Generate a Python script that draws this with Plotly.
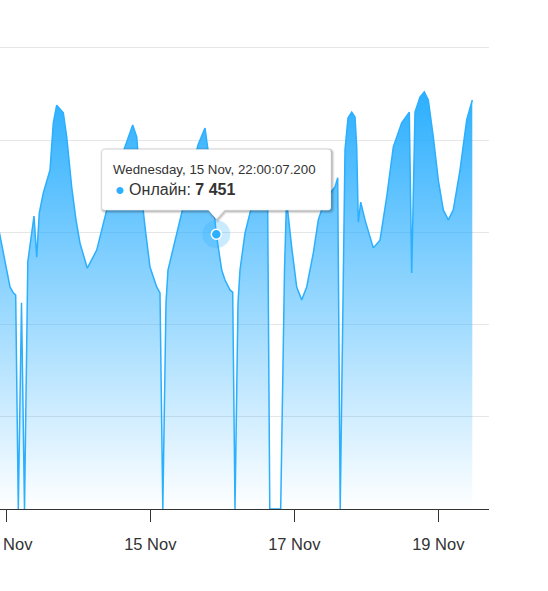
import plotly.graph_objects as go
from datetime import datetime

# ---- data ----
times = [
    "2023-11-12 20:34", "2023-11-12 23:00", "2023-11-13 00:08", "2023-11-13 01:14",
    "2023-11-13 02:20", "2023-11-13 03:08", "2023-11-13 04:00", "2023-11-13 05:04",
    "2023-11-13 06:04", "2023-11-13 07:10", "2023-11-13 08:28", "2023-11-13 09:14",
    "2023-11-13 10:08", "2023-11-13 11:00", "2023-11-13 12:20", "2023-11-13 13:28",
    "2023-11-13 14:34", "2023-11-13 15:40", "2023-11-13 16:48", "2023-11-13 19:00",
    "2023-11-13 20:08", "2023-11-13 21:48", "2023-11-13 23:14", "2023-11-14 00:34",
    "2023-11-14 03:00", "2023-11-14 06:08", "2023-11-14 09:28", "2023-11-14 12:48",
    "2023-11-14 16:08", "2023-11-14 18:08", "2023-11-14 19:28", "2023-11-14 20:34",
    "2023-11-14 22:14", "2023-11-14 23:54", "2023-11-15 02:08", "2023-11-15 03:14",
    "2023-11-15 04:10", "2023-11-15 05:14", "2023-11-15 05:54", "2023-11-15 07:54",
    "2023-11-15 09:54", "2023-11-15 13:14", "2023-11-15 15:54", "2023-11-15 18:14",
    "2023-11-15 19:14", "2023-11-15 20:34", "2023-11-15 22:00:07.200", "2023-11-15 23:48",
    "2023-11-16 00:54", "2023-11-16 02:34", "2023-11-16 03:28", "2023-11-16 04:14",
    "2023-11-16 05:14", "2023-11-16 05:54", "2023-11-16 07:34", "2023-11-16 09:14",
    "2023-11-16 11:14", "2023-11-16 13:14", "2023-11-16 15:04", "2023-11-16 15:50",
    "2023-11-16 19:28", "2023-11-16 20:44", "2023-11-16 21:24", "2023-11-16 23:08",
    "2023-11-17 00:48", "2023-11-17 02:28", "2023-11-17 04:08", "2023-11-17 06:20",
    "2023-11-17 08:00", "2023-11-17 10:14", "2023-11-17 13:34", "2023-11-17 14:28",
    "2023-11-17 15:18", "2023-11-17 16:54", "2023-11-17 17:54", "2023-11-17 19:08",
    "2023-11-17 20:14", "2023-11-17 20:48", "2023-11-17 21:20", "2023-11-17 22:08",
    "2023-11-17 23:34", "2023-11-18 02:20", "2023-11-18 04:34", "2023-11-18 06:48",
    "2023-11-18 09:00", "2023-11-18 11:48", "2023-11-18 14:20", "2023-11-18 15:08",
    "2023-11-18 16:14", "2023-11-18 17:54", "2023-11-18 19:20", "2023-11-18 20:40",
    "2023-11-18 22:20", "2023-11-19 00:00", "2023-11-19 01:40", "2023-11-19 03:20",
    "2023-11-19 05:00", "2023-11-19 07:14", "2023-11-19 09:28", "2023-11-19 11:20",
]
online = [
    7970, 7020, 6480, 6020,
    5860, 5800, 0, 5590,
    0, 6700, 7570, 7940,
    6830, 8030, 8570, 8920,
    9190, 10470, 10950, 10740,
    10090, 8730, 7840, 7210,
    6530, 7020, 8110, 9190,
    9950, 10410, 10090, 8920,
    7650, 6560, 6020, 5860,
    0, 5590, 6480, 7160,
    7840, 8920, 9870, 10330,
    9730, 8650, 7451, 6480,
    6210, 5940, 5880, 0,
    5590, 6480, 7480, 8030,
    8650, 8980, 8870, 0,
    0, 6480, 8380, 7100,
    6020, 5670, 6020, 6940,
    7840, 8380, 8730, 8980,
    0, 9730, 10600, 10760,
    10630, 9820, 7780, 8320,
    7840, 7080, 7290, 8460,
    9820, 10470, 10760, 6400,
    10760, 11170, 11310, 11090,
    10090, 8920, 8110, 7840,
    8110, 9190, 10550, 11090,
]
series_name = "Онлайн"
hover_time = "2023-11-15 22:00:07.200"
hover_value = 7451

tick_dates = ["2023-11-13", "2023-11-15", "2023-11-17", "2023-11-19"]
tick_labels = ["13 Nov", "15 Nov", "17 Nov", "19 Nov"]
x_range = ["2023-11-12 21:54", "2023-11-19 16:54"]
y_range = [0, 12554]

COLOR = "#2caffe"
FONT = "Liberation Sans, Arial, sans-serif"

fig = go.Figure()
fig.add_trace(go.Scatter(
    x=times, y=online, name=series_name, mode="lines",
    line=dict(color=COLOR, width=1.5),
    fill="tozeroy",
    fillgradient=dict(type="vertical",
                      colorscale=[[0, "rgba(44,175,254,0)"], [1, "rgba(44,175,254,1)"]],
                      start=0, stop=max(online)),
    hoverinfo="skip", showlegend=False,
))
# hover halo + marker
fig.add_trace(go.Scatter(
    x=[hover_time], y=[hover_value], mode="markers",
    marker=dict(size=28, color="rgba(44,175,254,0.25)", line=dict(width=0)),
    hoverinfo="skip", showlegend=False,
))
fig.add_trace(go.Scatter(
    x=[hover_time], y=[hover_value], mode="markers",
    marker=dict(size=10, color=COLOR, line=dict(width=1.5, color="white")),
    hoverinfo="skip", showlegend=False,
))

# tooltip box (pixel offsets relative to hovered point)
L, R, T, B, rr = -114.6, 114.7, 85, 24, 3
TIP, HW = 15, 8


def tooltip_path(ox=0.0, oy=0.0):
    p = lambda x, y: f"{x + ox},{y + oy}"
    return (f"M {p(L + rr, T)} L {p(R - rr, T)} Q {p(R, T)} {p(R, T - rr)} "
            f"L {p(R, B + rr)} Q {p(R, B)} {p(R - rr, B)} L {p(HW, B)} L {p(0, TIP)} "
            f"L {p(-HW, B)} L {p(L + rr, B)} Q {p(L, B)} {p(L, B + rr)} "
            f"L {p(L, T - rr)} Q {p(L, T)} {p(L + rr, T)} Z")


shapes = []
for w, a in [(5, 0.05), (3, 0.1), (1, 0.15)]:
    shapes.append(dict(type="path", xref="x", yref="y", xsizemode="pixel", ysizemode="pixel",
                       xanchor=hover_time, yanchor=hover_value, path=tooltip_path(1, -1),
                       line=dict(color=f"rgba(0,0,0,{a})", width=w), fillcolor="rgba(0,0,0,0)",
                       layer="above"))
shapes.append(dict(type="path", xref="x", yref="y", xsizemode="pixel", ysizemode="pixel",
                   xanchor=hover_time, yanchor=hover_value, path=tooltip_path(),
                   line=dict(color="rgba(0,0,0,0.08)", width=1), fillcolor="white",
                   layer="above"))

dt = datetime.strptime(hover_time, "%Y-%m-%d %H:%M:%S.%f")
header = f"{dt:%A}, {dt.day} {dt:%b}, {dt:%H:%M:%S}.{dt.microsecond // 1000:03d}"
value_txt = f"{hover_value:,}".replace(",", " ")

annotations = [
    dict(x=hover_time, y=hover_value, xref="x", yref="y", showarrow=False,
         xanchor="left", yanchor="middle", xshift=-105, yshift=65,
         text=header, font=dict(family=FONT, size=13.3, color="#333333")),
    dict(x=hover_time, y=hover_value, xref="x", yref="y", showarrow=False,
         xanchor="left", yanchor="middle", xshift=-103, yshift=45,
         text=f"<span style='color:{COLOR}'>●</span> {series_name}: <b>{value_txt}</b>",
         font=dict(family=FONT, size=16, color="#333333")),
]

fig.update_layout(
    width=548, height=591,
    margin=dict(l=0, r=59, t=46, b=82, autoexpand=False),
    paper_bgcolor="white", plot_bgcolor="white",
    shapes=shapes, annotations=annotations,
    hovermode=False,
    font=dict(family=FONT, color="#333333"),
    xaxis=dict(
        type="date", range=x_range, automargin=False,
        tickvals=tick_dates, ticktext=tick_labels,
        ticks="outside", ticklen=12, tickwidth=1, tickcolor="#333333",
        showline=True, linecolor="#333333", linewidth=1,
        showgrid=False, zeroline=False,
        tickfont=dict(family=FONT, size=16.5, color="#333333"),
        ticklabeloverflow="allow", ticklabelstandoff=8,
    ),
    yaxis=dict(
        range=y_range, dtick=2500, tick0=0, automargin=False,
        showgrid=True, gridcolor="#e6e6e6", gridwidth=1,
        showticklabels=False, zeroline=False, showline=False, ticks="",
    ),
)

fig.write_html("out.html",
               config={"displayModeBar": False, "staticPlot": True},
               post_script="document.body.style.margin='0';document.body.style.overflow='hidden';")
